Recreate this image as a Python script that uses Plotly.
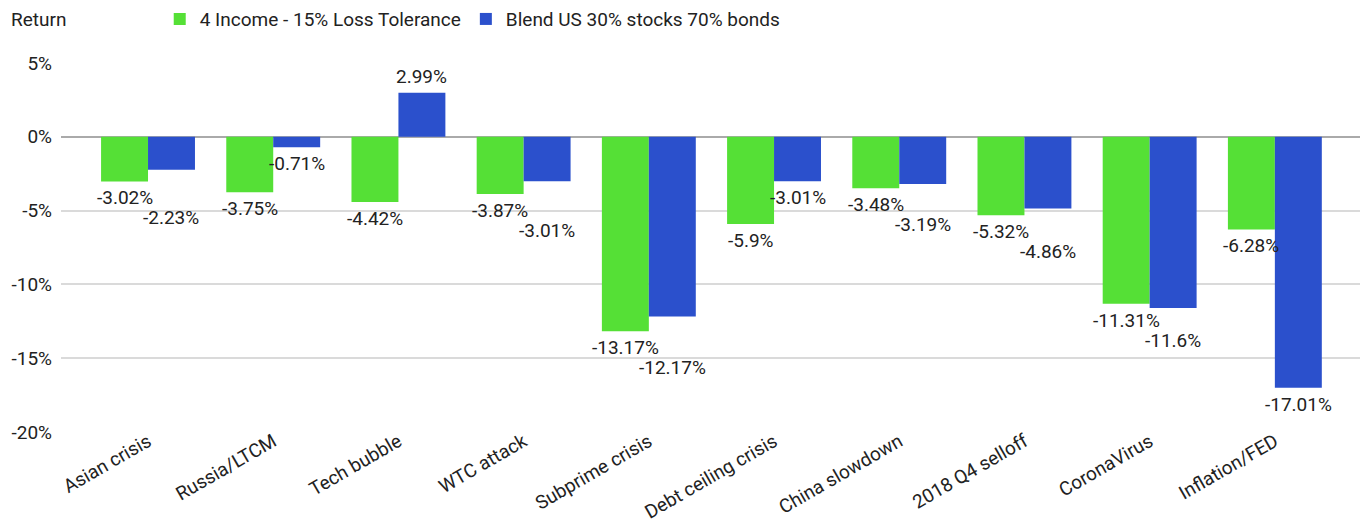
import plotly.graph_objects as go

categories = ["Asian crisis", "Russia/LTCM", "Tech bubble", "WTC attack", "Subprime crisis",
              "Debt ceiling crisis", "China slowdown", "2018 Q4 selloff", "CoronaVirus", "Inflation/FED"]
income_vals = [-3.02, -3.75, -4.42, -3.87, -13.17, -5.9, -3.48, -5.32, -11.31, -6.28]
blend_vals = [-2.23, -0.71, 2.99, -3.01, -12.17, -3.01, -3.19, -4.86, -11.6, -17.01]
series_names = ["4 Income - 15% Loss Tolerance", "Blend US 30% stocks 70% bonds"]
y_ticks = [5, 0, -5, -10, -15, -20]
y_ticktext = ["5%", "0%", "-5%", "-10%", "-15%", "-20%"]

FONT = "Roboto"
TXT = "#222222"
Y_RANGE = [-20, 5]
PLOT_TOP, PLOT_BOTTOM = 63, 91
HEIGHT = 523
BARGAP = 0.25
PX_PER_UNIT = (HEIGHT - PLOT_TOP - PLOT_BOTTOM) / (Y_RANGE[1] - Y_RANGE[0])
LABEL_GAP = 3
LABEL_H = 20

fig = go.Figure()
colors = ["#55E036", "#2B50CC"]
for name, vals, color in zip(series_names, [income_vals, blend_vals], colors):
    fig.add_trace(go.Bar(
        x=list(range(len(categories))), y=vals, name=name,
        marker=dict(color=color, line=dict(width=0)),
        hoverinfo="x+y",
    ))

# value labels, staggered like the original to avoid collisions
half = (1 - BARGAP) / 4
annotations = []
for i, (g, b) in enumerate(zip(income_vals, blend_vals)):
    placed = []
    for k, v in enumerate([g, b]):
        x = i - half if k == 0 else i + half
        if v >= 0:
            annotations.append(dict(x=x, y=v, text=f"{v}%", showarrow=False,
                                    xanchor="center", yanchor="bottom", yshift=LABEL_GAP,
                                    font=dict(family=FONT, size=19, color=TXT)))
            continue
        top_px = -v * PX_PER_UNIT + LABEL_GAP
        for p in placed:
            if abs(top_px - p) < LABEL_H:
                top_px = p + LABEL_H
        placed.append(top_px)
        annotations.append(dict(x=x, y=v, text=f"{v}%", showarrow=False,
                                xanchor="center", yanchor="top",
                                yshift=-(top_px - (-v * PX_PER_UNIT)),
                                font=dict(family=FONT, size=19, color=TXT)))

annotations.append(dict(text="Return", xref="paper", yref="paper", x=-0.040, y=1.119,
                        xanchor="left", yanchor="middle", showarrow=False,
                        font=dict(family=FONT, size=19, color=TXT)))

fig.update_layout(
    width=1362, height=HEIGHT,
    margin=dict(l=61, r=2, t=PLOT_TOP, b=PLOT_BOTTOM, autoexpand=False),
    paper_bgcolor="white", plot_bgcolor="white",
    barmode="group", bargap=BARGAP, bargroupgap=0,
    font=dict(family=FONT, size=19, color=TXT),
    legend=dict(orientation="h", x=0.076, xanchor="left", y=1.119, yanchor="middle",
                font=dict(family=FONT, size=19, color=TXT),
                itemwidth=30, tracegroupgap=0),
    xaxis=dict(range=[-0.695, 9.68], tickangle=-30, showgrid=False,
               tickvals=list(range(len(categories))), ticktext=categories,
               tickfont=dict(family=FONT, size=19, color=TXT),
               showline=False, zeroline=False, automargin=False,
               ticklabelstandoff=-6),
    yaxis=dict(range=Y_RANGE, tickvals=y_ticks, ticktext=y_ticktext,
               gridcolor="#DADADA", gridwidth=1.5,
               zeroline=True, zerolinecolor="#AAAAAA", zerolinewidth=2,
               tickfont=dict(family=FONT, size=19, color=TXT),
               ticklabelstandoff=8, automargin=False),
    annotations=annotations,
)

fig.write_html("out.html", config={"displayModeBar": False},
               post_script="document.body.style.margin='0px';")
